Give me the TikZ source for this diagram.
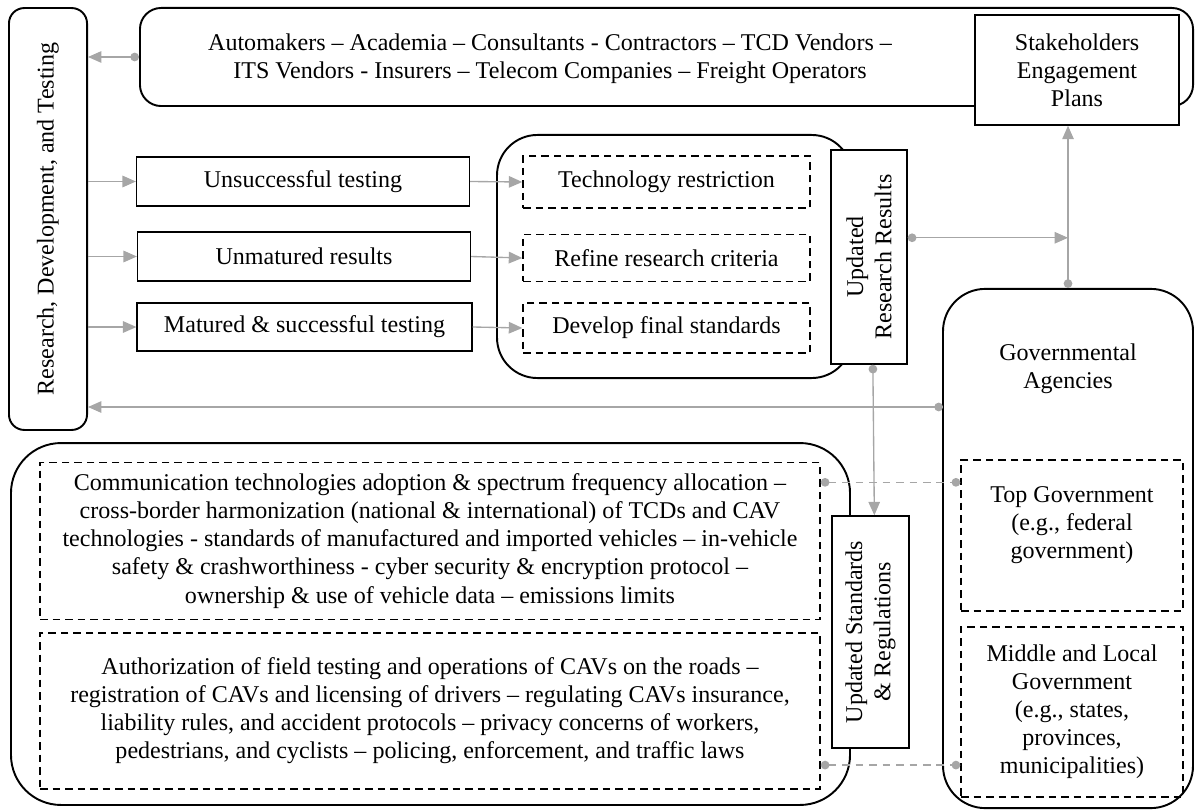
\documentclass[tikz,border=0pt]{standalone}
\usepackage{fontspec}
\setmainfont{Liberation Serif}
\usepackage{tikz}
\usetikzlibrary{arrows, arrows.meta}
\definecolor{linegray}{RGB}{166,166,166}
\tikzstyle{plainbox} = [rectangle, draw=black, line width=0.8pt, align=center, inner sep=2pt]
\tikzstyle{dashbox} = [plainbox, dash pattern=on 4pt off 2.5pt]
\tikzstyle{roundbox} = [plainbox, line width=1pt]
\tikzstyle{arrow} = [line width=0.7pt, draw=linegray, -{Triangle[length=7pt,width=6pt]}]
\tikzstyle{dotarrow} = [arrow, {Circle[length=4.5pt]}-{Triangle[length=7pt,width=6pt]}]
\tikzstyle{dotline} = [line width=0.7pt, draw=linegray, dash pattern=on 4pt off 3pt, {Circle[length=4.5pt]}-{Circle[length=4.5pt]}]

\begin{document}
\begin{tikzpicture}[x=0.52pt, y=-0.52pt, font=\fontsize{12.5}{14.6}\selectfont]
		\useasboundingbox (0,0) rectangle (1195,809);
		% stakeholders
		\node[roundbox, rounded corners=11pt, minimum width=547.6pt, minimum height=51pt] (stkbox) at (666.5,57) {};
		\node[align=center] (stktext) at (550,59) {Automakers – Academia – Consultants - Contractors – TCD Vendors –\\ITS Vendors - Insurers – Telecom Companies – Freight Operators};
		\node[plainbox, fill=white, minimum width=106pt, minimum height=57.2pt] (sep) at (1077,70) {Stakeholders\\Engagement\\Plans};
		% research, development and testing
		\node[roundbox, rounded corners=8pt, rotate=90, minimum width=219.4pt, minimum height=40.6pt] (rdt) at (48,219) {Research, Development, and Testing};
		\node[plainbox, minimum width=173pt, minimum height=25.5pt] (uns) at (303,181.5) {Unsuccessful testing};
		\node[plainbox, minimum width=173pt, minimum height=25.5pt] (unm) at (304,256.5) {Unmatured results};
		\node[plainbox, minimum width=174pt, minimum height=25pt] (mat) at (304.5,327) {Matured \& successful testing};
		% research outcomes
		\node[roundbox, rounded corners=21pt, minimum width=184.6pt, minimum height=126.4pt] (midbox) at (674.5,256.5) {};
		\node[dashbox, minimum width=149.2pt, minimum height=27pt] (tech) at (666.5,182) {Technology restriction};
		\node[dashbox, minimum width=149.2pt, minimum height=24.4pt] (refine) at (666.5,258) {Refine research criteria};
		\node[dashbox, minimum width=149.2pt, minimum height=26pt] (develop) at (666.5,328) {Develop final standards};
		\node[plainbox, fill=white, rotate=90, minimum width=111.3pt, minimum height=39.5pt] (urr) at (869,257) {Updated\\Research Results};
		% governmental agencies
		\node[roundbox, rounded corners=22pt, minimum width=130pt, minimum height=270pt] (ga) at (1068,548.5) {};
		\node[align=center] (gatext) at (1068,369) {Governmental\\Agencies};
		\node[dashbox, minimum width=115.4pt, minimum height=78.5pt] (tg) at (1072,535.5) {};
		\node[align=center] (tgtext) at (1072,525) {Top Government\\(e.g., federal\\government)};
		\node[dashbox, minimum width=115.4pt, minimum height=88.4pt] (ml) at (1072,712) {Middle and Local\\Government\\(e.g., states,\\provinces,\\municipalities)};
		% standards and regulations
		\node[roundbox, rounded corners=26pt, minimum width=436.3pt, minimum height=188.2pt] (bigbox) at (430.5,624) {};
		\node[dashbox, minimum width=405.6pt, minimum height=81.6pt] (box1) at (430,541) {Communication technologies adoption \& spectrum frequency allocation –\\cross-border harmonization (national \& international) of TCDs and CAV\\technologies - standards of manufactured and imported vehicles – in-vehicle\\safety \& crashworthiness - cyber security \& encryption protocol –\\ownership \& use of vehicle data – emissions limits};
		\node[dashbox, minimum width=405.6pt, minimum height=81.1pt] (box2) at (430,711) {Authorization of field testing and operations of CAVs on the roads –\\registration of CAVs and licensing of drivers – regulating CAVs insurance,\\liability rules, and accident protocols – privacy concerns of workers,\\pedestrians, and cyclists – policing, enforcement, and traffic laws};
		\node[plainbox, fill=white, rotate=90, minimum width=120.6pt, minimum height=40pt] (usr) at (870.5,632) {Updated Standards\\\& Regulations};
		% connectors
		\draw[dotarrow] (stkbox.west) -- (stkbox.west -| rdt.south);
		\draw[arrow] (uns.west -| rdt.south) -- (uns.west);
		\draw[arrow] (unm.west -| rdt.south) -- (unm.west);
		\draw[arrow] (mat.west -| rdt.south) -- (mat.west);
		\draw[arrow] (uns.east) -- (tech.west);
		\draw[arrow] (unm.east) -- (refine.west);
		\draw[arrow] (mat.east) -- (develop.west);
		\draw[dotarrow] ([yshift=10pt]urr.south) -- ([yshift=10pt]urr.south -| ga.north);
		\draw[dotarrow] (ga.north) -- (ga.north |- sep.south);
		\coordinate (gleft) at (943,407);
		\draw[dotarrow] (gleft) -- (gleft -| rdt.south);
		\draw[dotarrow] ([xshift=2pt]urr.west) -- ([xshift=2pt]usr.east);
		\draw[dotline] ([yshift=-12pt]tg.north west -| box1.east) -- ([yshift=-12pt]tg.north west);
		\draw[dotline] ([yshift=17pt]ml.south west -| box2.east) -- ([yshift=17pt]ml.south west);
		\end{tikzpicture}
\end{document}
